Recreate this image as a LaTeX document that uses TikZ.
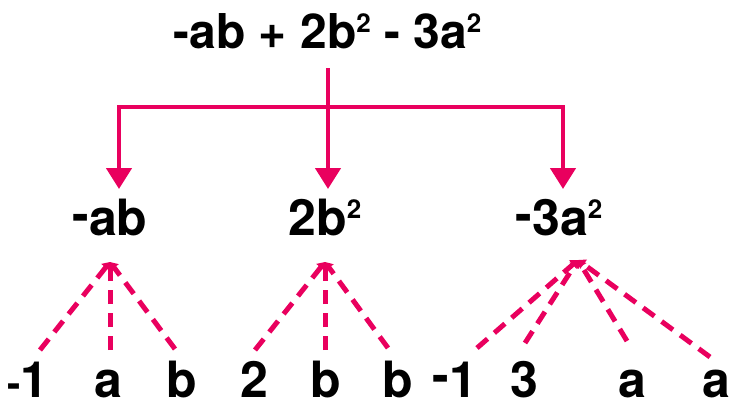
\documentclass[tikz,border=0pt]{standalone}
\usepackage{fontspec}
\setmainfont{TeX Gyre Heros}
\usetikzlibrary{arrows.meta}
\definecolor{pk}{RGB}{233,0,94}
\newcommand{\sqr}{\raisebox{0.33em}{\fontsize{26}{26}\selectfont 2}}
\begin{document}
\begin{tikzpicture}[x=1pt,y=-1pt,
  font=\bfseries\fontsize{50}{50}\selectfont,
  lbl/.style={inner sep=0pt, anchor=base},
  conn/.style={pk, line width=4.5pt},
  arr/.style={conn, -{Triangle[width=25pt,length=21pt]}},
  dsh/.style={pk, line width=5pt, dash pattern=on 14pt off 9pt, -{Triangle[width=11pt,length=7pt]}}]
\useasboundingbox (0,0) rectangle (732,408);
% top expression
\node[lbl, font=\bfseries\fontsize{48}{48}\selectfont] (top) at (327.5,48) {-ab + 2b\sqr{} - 3a\sqr};
% terms
\node[lbl] (m1) at (110,235) {\raisebox{4pt}{-}ab};
\node[lbl] (m2) at (325,235) {2b\sqr};
\node[lbl] (m3) at (559,235) {\raisebox{4pt}{-}3a\sqr};
% factors
\node[lbl] (b1) at (28,397) {{\fontsize{40}{40}\selectfont -}1};
\node[lbl] (b2) at (108.5,397) {a};
\node[lbl] (b3) at (182,397) {b};
\node[lbl] (b4) at (254,397) {2};
\node[lbl] (b5) at (326,397) {b};
\node[lbl] (b6) at (398,397) {b};
\node[lbl] (b7) at (455,397) {\raisebox{5pt}{-}1};
\node[lbl] (b8) at (524,397) {3};
\node[lbl] (b9) at (632,397) {a};
\node[lbl] (b10) at (716,397) {a};
% tree connectors
\coordinate (p0) at (328,68);
\coordinate (j) at (328,107);
\coordinate (a1) at (119,189);
\coordinate (a2) at (328,189);
\coordinate (a3) at (563,189);
\draw[arr] (j) -| (a1);
\draw[arr] (j) -| (a3);
\draw[arr] (p0) -- (a2);
% dashed connectors
\coordinate (q1) at (110,262);
\coordinate (q2) at (325,262);
\coordinate (q3) at (578,260);
\coordinate (e1) at (40,350);
\coordinate (e2) at (110,350);
\coordinate (e3) at (175,349);
\coordinate (e4) at (255,350);
\coordinate (e5) at (325,350);
\coordinate (e6) at (388,348);
\coordinate (e7) at (477,348);
\coordinate (e8) at (525,343);
\coordinate (e9) at (627,341);
\coordinate (e10) at (710,357);
\foreach \e in {e1,e2,e3} \draw[dsh] (\e) -- (q1);
\foreach \e in {e4,e5,e6} \draw[dsh] (\e) -- (q2);
\foreach \e in {e7,e8,e9,e10} \draw[dsh] (\e) -- (q3);
\end{tikzpicture}
\end{document}
